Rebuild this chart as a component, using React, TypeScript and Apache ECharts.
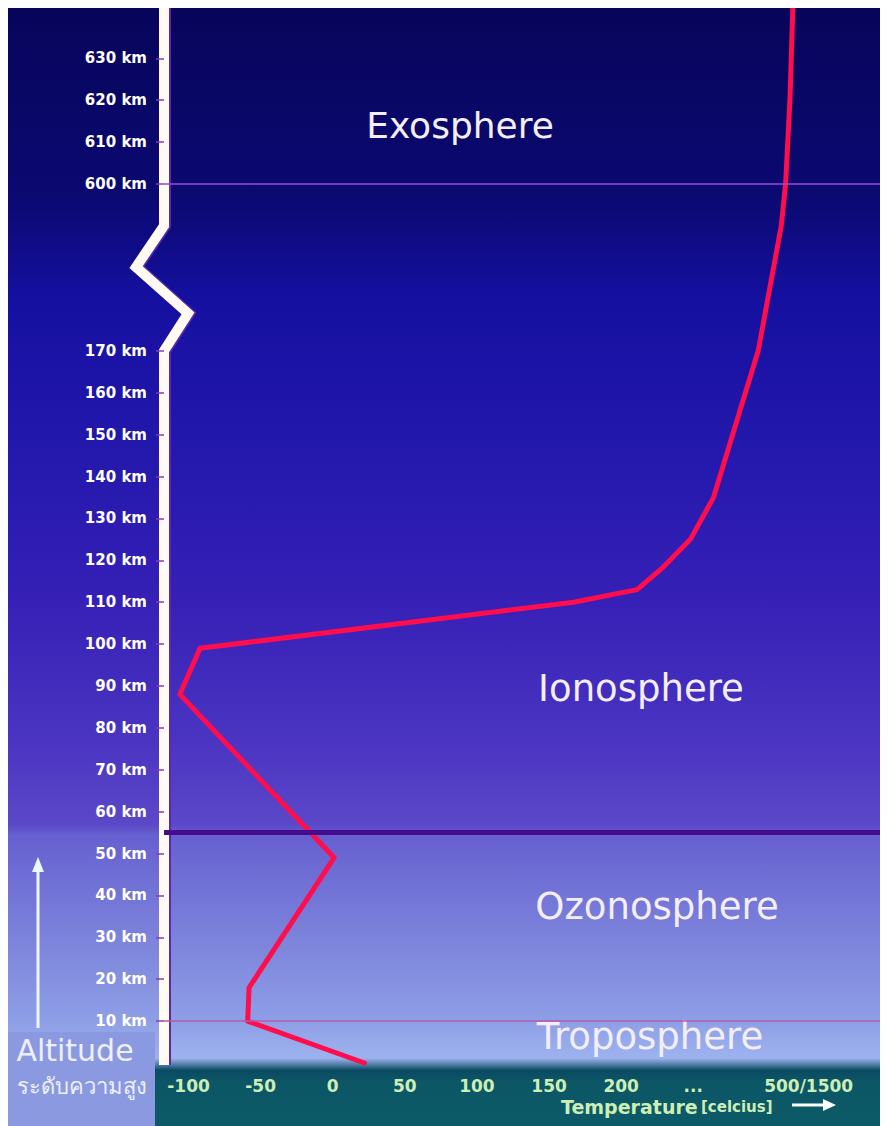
import React, { useEffect, useRef } from "react";
import * as echarts from "echarts";

// ---- data ----
const altitudeKm = [0, 10, 18, 49, 88, 99, 110, 113, 118, 125, 135, 170, 590, 600, 620, 642];
const temperatureC = [22, -59, -58, 1, -106, -92, 167, 211, 228, 248, 264, 295, 311, 314, 317, 319];

const altitudeTickValues = [10, 20, 30, 40, 50, 60, 70, 80, 90, 100, 110, 120, 130, 140, 150, 160, 170, 600, 610, 620, 630];
const temperatureTickValues = [-100, -50, 0, 50, 100, 150, 200, 250, 330];
const temperatureTickLabels = ["-100", "-50", "0", "50", "100", "150", "200", "...", "500/1500"];

const boundaryKm = [600, 55, 10];
const layerNames = ["Exosphere", "Ionosphere", "Ozonosphere", "Troposphere"];

const BREAK_START = 170;
const BREAK_END = 590;
const Y_MAX = 642;
const X_MIN = -117;
const X_MAX = 385;

const LABEL_GREEN = "#cdeeb4";
const COMIC = "'Comic Sans MS', 'DejaVu Sans', sans-serif";

export default function App() {
  const ref = useRef<HTMLDivElement>(null);

  useEffect(() => {
    if (!ref.current) return;
    const chart = echarts.init(ref.current, null, { renderer: "svg" });

    const W = 880;
    const H = 1118;

    const layerPos = [
      [452, 117],
      [633, 680],
      [649, 898],
      [642, 1028],
    ];

    const option: any = {
      animation: false,
      grid: { left: 156, right: 0, top: 0, bottom: 63, containLabel: false },
      xAxis: {
        type: "value",
        min: X_MIN,
        max: X_MAX,
        axisLine: { show: false, onZero: false },
        axisTick: { show: false },
        splitLine: { show: false },
        axisLabel: {
          customValues: temperatureTickValues,
          formatter: (v: number) => {
            const i = temperatureTickValues.indexOf(v);
            return i >= 0 ? temperatureTickLabels[i] : "";
          },
          color: LABEL_GREEN,
          fontFamily: "'DejaVu Sans', sans-serif",
          fontWeight: "bold",
          fontSize: 17,
          margin: 14,
        },
      },
      yAxis: {
        type: "value",
        min: 0,
        max: Y_MAX,
        z: 10,
        breaks: [{ start: BREAK_START, end: BREAK_END, gap: "11.85%" }],
        breakArea: { show: false },
        axisLine: { show: false, onZero: false },
        splitLine: { show: false },
        axisTick: {
          show: true,
          customValues: altitudeTickValues,
          length: 8,
          lineStyle: { color: "#8a3ab0", width: 1.5 },
        },
        axisLabel: {
          customValues: altitudeTickValues,
          formatter: (v: number) => `${v} km`,
          color: "#ffffff",
          fontFamily: "'DejaVu Sans', sans-serif",
          fontWeight: "bold",
          fontSize: 15,
          margin: 17,
        },
      },
      graphic: [
        {
          type: "rect",
          z: -100,
          silent: true,
          shape: { x: 0, y: 0, width: W, height: H },
          style: {
            fill: {
              type: "linear",
              x: 0,
              y: 0,
              x2: 0,
              y2: 1,
              colorStops: [
                { offset: 0, color: "#07055a" },
                { offset: 0.17, color: "#0b0972" },
                { offset: 0.26, color: "#1510a0" },
                { offset: 0.4, color: "#2418ad" },
                { offset: 0.53, color: "#3620b6" },
                { offset: 0.66, color: "#4b35c2" },
                { offset: 0.73, color: "#5b48c8" },
                { offset: 0.74, color: "#6660d0" },
                { offset: 0.84, color: "#7e86dc" },
                { offset: 0.905, color: "#8e9ee6" },
                { offset: 0.945, color: "#9fb6f0" },
                { offset: 1, color: "#a0b8f0" },
              ],
            },
          },
        },
        {
          type: "rect",
          z: -50,
          silent: true,
          shape: { x: 0, y: 1024, width: 147, height: 94 },
          style: { fill: "#8b9ae0" },
        },
        {
          type: "rect",
          z: -50,
          silent: true,
          shape: { x: 147, y: 1050, width: W - 147, height: 68 },
          style: {
            fill: {
              type: "linear",
              x: 0,
              y: 0,
              x2: 0,
              y2: 1,
              colorStops: [
                { offset: 0, color: "rgba(12,80,100,0)" },
                { offset: 0.18, color: "#0a4a62" },
                { offset: 0.35, color: "#0c5666" },
                { offset: 1, color: "#0c5a68" },
              ],
            },
          },
        },
        // altitude arrow
        {
          type: "line",
          z: 5,
          silent: true,
          shape: { x1: 30, y1: 860, x2: 30, y2: 1020 },
          style: { stroke: "#eef6ff", lineWidth: 3 },
        },
        {
          type: "polygon",
          z: 5,
          silent: true,
          shape: { points: [[30, 849], [24, 864], [36, 864]] },
          style: { fill: "#eef6ff" },
        },
        {
          type: "text",
          z: 5,
          silent: true,
          x: 67,
          y: 1042,
          style: {
            text: "Altitude",
            fill: "#eef0ff",
            font: `30px ${COMIC}`,
            align: "center",
            verticalAlign: "middle",
          },
        },
        {
          type: "text",
          z: 5,
          silent: true,
          x: 74,
          y: 1077,
          style: {
            text: "ระดับความสูง",
            fill: "#eef0ff",
            font: "22px 'Noto Sans', 'DejaVu Sans', sans-serif",
            align: "center",
            verticalAlign: "middle",
          },
        },
        // temperature axis title
        {
          type: "text",
          z: 5,
          silent: true,
          x: 553,
          y: 1099,
          style: {
            text: "{a|Temperature} {b|[celcius]}",
            verticalAlign: "middle",
            rich: {
              a: { fill: LABEL_GREEN, font: "bold 19px 'DejaVu Sans', sans-serif" },
              b: { fill: LABEL_GREEN, font: "bold 15px 'DejaVu Sans', sans-serif" },
            },
          },
        },
        {
          type: "line",
          z: 5,
          silent: true,
          shape: { x1: 784, y1: 1097, x2: 818, y2: 1097 },
          style: { stroke: "#ffffff", lineWidth: 3 },
        },
        {
          type: "polygon",
          z: 5,
          silent: true,
          shape: { points: [[828, 1097], [815, 1091], [815, 1103]] },
          style: { fill: "#ffffff" },
        },
        ...layerNames.map((name, i) => ({
          type: "text",
          z: 5,
          silent: true,
          x: layerPos[i][0],
          y: layerPos[i][1],
          style: {
            text: name,
            fill: "#f4eefa",
            font: `${i === 0 ? 36 : 37}px ${COMIC}`,
            align: "center",
            verticalAlign: "middle",
          },
        })),
      ],
      series: [
        {
          type: "line",
          name: "boundaries",
          data: [],
          z: 1,
          silent: true,
          markLine: {
            silent: true,
            symbol: ["none", "none"],
            label: { show: false },
            animation: false,
            data: [
              { yAxis: boundaryKm[0], lineStyle: { color: "#9a48d8", width: 1.5, type: "solid" } },
              { yAxis: boundaryKm[1], lineStyle: { color: "#460a8c", width: 5, type: "solid" } },
              { yAxis: boundaryKm[2], lineStyle: { color: "#b45aa8", width: 1.5, type: "solid" } },
            ],
          },
        },
        {
          type: "custom",
          name: "axis-bar",
          z: 2,
          silent: true,
          clip: false,
          data: [[X_MIN, 0]],
          renderItem: (_params: any, api: any) => {
            const ax = api.coord([X_MIN, 0])[0];
            const yTop = api.coord([X_MIN, Y_MAX])[1];
            const yHi = api.coord([X_MIN, BREAK_END])[1];
            const yLo = api.coord([X_MIN, BREAK_START])[1];
            const y0 = api.coord([X_MIN, 0])[1];
            const h = yLo - yHi;
            const pts = [
              [ax, yTop],
              [ax, yHi],
              [ax - 28, yHi + 0.33 * h],
              [ax + 24, yHi + 0.7 * h],
              [ax, yLo],
              [ax, y0 + 2],
            ];
            const shifted = pts.map((p) => [p[0] + 2, p[1]]);
            return {
              type: "group",
              children: [
                {
                  type: "polyline",
                  shape: { points: shifted },
                  style: { stroke: "#5a2aa8", lineWidth: 10, fill: null, lineJoin: "miter" },
                },
                {
                  type: "polyline",
                  shape: { points: pts },
                  style: { stroke: "#fffaf2", lineWidth: 10, fill: null, lineJoin: "miter" },
                },
              ],
            };
          },
        },
        {
          type: "line",
          name: "temperature",
          z: 3,
          showSymbol: false,
          symbol: "none",
          silent: true,
          data: altitudeKm.map((a, i) => [temperatureC[i], a]),
          lineStyle: { color: "#ff0d4d", width: 5, join: "round", cap: "round" },
        },
      ],
    };

    chart.setOption(option);
    return () => chart.dispose();
  }, []);

  return <div ref={ref} style={{ width: 880, height: 1118 }} />;
}
